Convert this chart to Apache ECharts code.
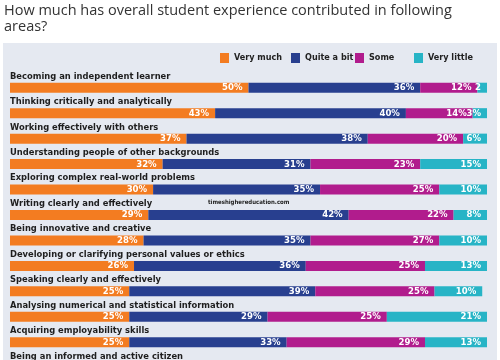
<!DOCTYPE html>
<html>
<head>
<meta charset="utf-8">
<script src="https://cdn.jsdelivr.net/npm/echarts@6/dist/echarts.min.js"></script>
<style>
html,body{margin:0;padding:0;background:#fff;overflow:hidden;width:500px;height:360px;}
#c{width:500px;height:400px;}
</style>
</head>
<body>
<div id="c"></div>
<script>
const titleText = 'How much has overall student experience contributed in following\nareas?';
const categories = [
  'Becoming an independent learner',
  'Thinking critically and analytically',
  'Working effectively with others',
  'Understanding people of other backgrounds',
  'Exploring complex real-world problems',
  'Writing clearly and effectively',
  'Being innovative and creative',
  'Developing or clarifying personal values or ethics',
  'Speaking clearly and effectively',
  'Analysing numerical and statistical information',
  'Acquiring employability skills',
  'Being an informed and active citizen'
];
const seriesNames = ['Very much', 'Quite a bit', 'Some', 'Very little'];
const veryMuch   = [50, 43, 37, 32, 30, 29, 28, 26, 25, 25, 25, null];
const quiteABit  = [36, 40, 38, 31, 35, 42, 35, 36, 39, 29, 33, null];
const some       = [12, 14, 20, 23, 25, 22, 27, 25, 25, 25, 29, null];
const veryLittle = [ 2,  3,  6, 15, 10,  8, 10, 13, 10, 21, 13, null];
const sourceNote = 'timeshighereducation.com';

const colors = ['#f37c21', '#283f8f', '#b11c8d', '#27b4c6'];
const labelFont = '"DejaVu Sans Condensed", sans-serif';
const values = [veryMuch, quiteABit, some, veryLittle];
const legendLefts = [220, 291, 355, 414];

const chart = echarts.init(document.getElementById('c'), null, {renderer: 'canvas'});
chart.setOption({
  animation: false,
  backgroundColor: '#ffffff',
  title: {
    text: titleText,
    left: 4, top: 3, padding: 0,
    textStyle: {fontFamily: '"Open Sans", sans-serif', fontSize: 14.5, fontWeight: 500, color: '#333', lineHeight: 16}
  },
  graphic: [
    {type: 'rect', left: 3, top: 43, z: -10, shape: {width: 494, height: 360}, style: {fill: '#e5e9f1'}},
    {type: 'text', left: 208, top: 199, z: 10, style: {text: sourceNote, font: 'bold 6px ' + labelFont, fill: '#222'}}
  ],
  legend: seriesNames.map((n, i) => ({
    data: [n], left: legendLefts[i], top: 53, itemWidth: 9, itemHeight: 10, itemGap: 0,
    icon: 'rect', selectedMode: false, padding: 0,
    textStyle: {fontFamily: labelFont, fontWeight: 'bold', fontSize: 9, color: '#222'}
  })),
  grid: {left: 10, right: 13, top: 75, height: 305.4},
  xAxis: {type: 'value', min: 0, max: 100, show: false},
  yAxis: {
    type: 'category', data: categories, inverse: true,
    axisLine: {show: false}, axisTick: {show: false}, splitLine: {show: false},
    axisLabel: {inside: true, margin: 0, align: 'left', verticalAlign: 'bottom', padding: [0,0,7,0],
      fontFamily: labelFont, fontWeight: 'bold', fontSize: 9.3, color: '#1e1e1e'}
  },
  series: seriesNames.map((n, i) => ({
    name: n, type: 'bar', stack: 'all', data: values[i], barWidth: 10,
    itemStyle: {color: colors[i]},
    label: {show: true, position: 'insideRight', distance: 6, color: '#fff', fontWeight: 'bold', fontSize: 9.5,
      fontFamily: labelFont,
      formatter: p => p.value < 3 ? String(p.value) : p.value + '%'}
  }))
});
</script>
</body>
</html>
